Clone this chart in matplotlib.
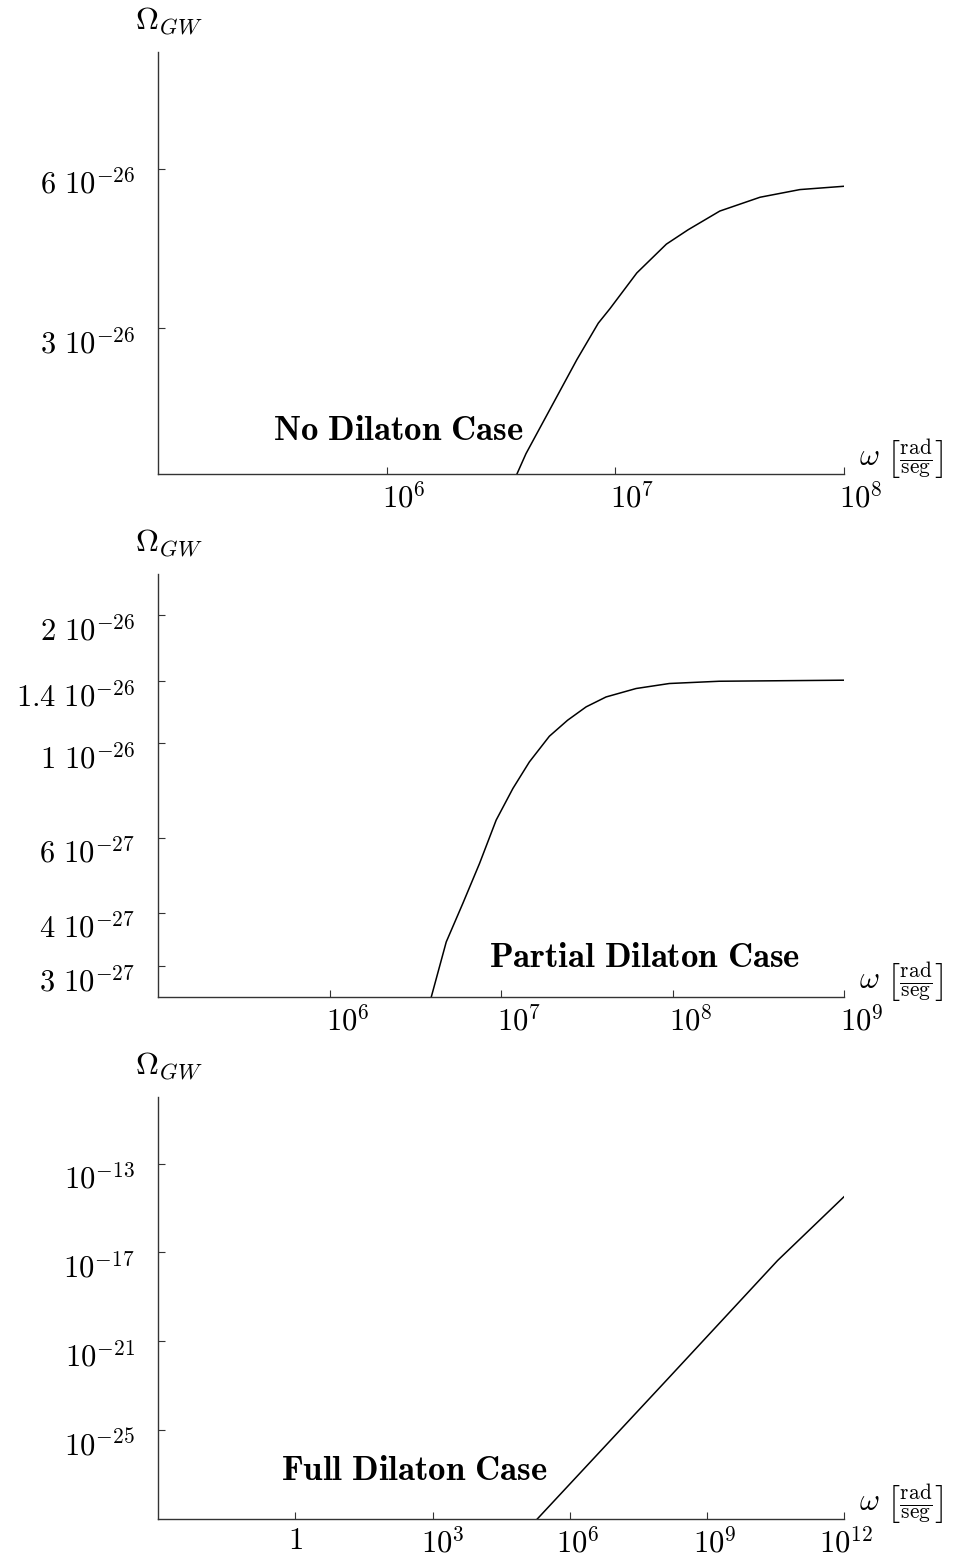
import numpy as np
import matplotlib
matplotlib.use("Agg")
import matplotlib.pyplot as plt
import matplotlib.transforms as mtransforms

plt.rcParams['font.family'] = 'serif'
plt.rcParams['font.serif'] = ['cmr10']
plt.rcParams['mathtext.fontset'] = 'cm'
plt.rcParams['axes.unicode_minus'] = False

# No dilaton case
no_omega = [3.70e6, 4.06e6, 6.78e6, 8.41e6, 9.46e6, 1.24e7, 1.67e7, 2.08e7,
            2.86e7, 4.29e7, 6.41e7, 1.0e8]
no_gw = [1.59e-26, 1.74e-26, 2.62e-26, 3.07e-26, 3.27e-26, 3.82e-26, 4.33e-26,
         4.61e-26, 5.00e-26, 5.31e-26, 5.49e-26, 5.57e-26]

# Partial dilaton case
partial_omega = [3.91e6, 4.78e6, 5.97e6, 7.48e6, 9.35e6, 1.17e7, 1.46e7, 1.91e7,
                 2.44e7, 3.13e7, 4.09e7, 6.12e7, 9.57e7, 1.87e8, 1.0e9]
partial_gw = [2.54e-27, 3.42e-27, 4.21e-27, 5.23e-27, 6.61e-27, 7.84e-27,
              9.05e-27, 1.040e-26, 1.134e-26, 1.219e-26, 1.286e-26, 1.346e-26,
              1.383e-26, 1.400e-26, 1.408e-26]

# Full dilaton case
full_omega = [1.95e5, 1.37e8, 3.53e10, 1.0e12]
full_gw = [1.0e-29, 1.95e-23, 4.37e-18, 3.24e-15]

no_xticks = [1e6, 1e7, 1e8]
no_xlabels = [r'$10^6$', r'$10^7$', r'$10^8$']
no_yticks = [3e-26, 6e-26]
no_ylabels = [r'$3\ 10^{-26}$', r'$6\ 10^{-26}$']

partial_xticks = [1e6, 1e7, 1e8, 1e9]
partial_xlabels = [r'$10^6$', r'$10^7$', r'$10^8$', r'$10^9$']
partial_yticks = [3e-27, 4e-27, 6e-27, 1e-26, 1.4e-26, 2e-26]
partial_ylabels = [r'$3\ 10^{-27}$', r'$4\ 10^{-27}$', r'$6\ 10^{-27}$',
                   r'$1\ 10^{-26}$', r'$1.4\ 10^{-26}$', r'$2\ 10^{-26}$']

full_xticks = [1, 1e3, 1e6, 1e9, 1e12]
full_xlabels = [r'$1$', r'$10^3$', r'$10^6$', r'$10^9$', r'$10^{12}$']
full_yticks = [1e-25, 1e-21, 1e-17, 1e-13]
full_ylabels = [r'$10^{-25}$', r'$10^{-21}$', r'$10^{-17}$', r'$10^{-13}$']

panels = [
    dict(x=no_omega, y=no_gw, xlim=(1e5, 1e8), ylim=(1.59e-26, 1.0e-25),
         xt=no_xticks, xl=no_xlabels, yt=no_yticks, yl=no_ylabels,
         name=r'$\mathbf{No\ Dilaton\ Case}$', pos=(0.3496, 0.1025),
         rect=[0.1656, 0.6967, 0.7173, 0.2702], xshift=[17, 17, 17]),
    dict(x=partial_omega, y=partial_gw, xlim=(1e5, 1e9), ylim=(2.535e-27, 2.5e-26),
         xt=partial_xticks, xl=partial_xlabels, yt=partial_yticks, yl=partial_ylabels,
         name=r'$\mathbf{Partial\ Dilaton\ Case}$', pos=(0.709, 0.093),
         rect=[0.1656, 0.3623, 0.7173, 0.2707], xshift=[18, 18, 18, 18]),
    dict(x=full_omega, y=full_gw, xlim=(1e-3, 1e12), ylim=(1e-29, 1e-10),
         xt=full_xticks, xl=full_xlabels, yt=full_yticks, yl=full_ylabels,
         name=r'$\mathbf{Full\ Dilaton\ Case}$', pos=(0.3736, 0.1137),
         rect=[0.1656, 0.0288, 0.7173, 0.2698], xshift=[0, 10, 8, 8, 2]),
]

fig = plt.figure(figsize=(9.56, 15.64), dpi=100)

for p in panels:
    ax = fig.add_axes(p['rect'])
    ax.plot(p['x'], p['y'], color='black', lw=1.1)
    ax.set_xscale('log')
    ax.set_yscale('log')
    ax.set_xlim(*p['xlim'])
    ax.set_ylim(*p['ylim'])
    ax.minorticks_off()
    ax.set_xticks(p['xt'])
    ax.set_xticklabels(p['xl'])
    ax.set_yticks(p['yt'])
    ax.set_yticklabels(p['yl'])
    for s in ['top', 'right']:
        ax.spines[s].set_visible(False)
    for s in ['left', 'bottom']:
        ax.spines[s].set_linewidth(1.0)
        ax.spines[s].set_color('#333333')
    ax.tick_params(axis='both', direction='in', length=5, width=0.8,
                   labelsize=22, color='#333333')
    ax.tick_params(axis='y', pad=17)
    ax.tick_params(axis='x', pad=6)

    # Mathematica-like label placement
    for lab, dx in zip(ax.get_xticklabels(), p['xshift']):
        off = mtransforms.ScaledTranslation(dx / 100, 0, fig.dpi_scale_trans)
        lab.set_transform(lab.get_transform() + off)
    for lab in ax.get_yticklabels():
        off = mtransforms.ScaledTranslation(0, -12 / 100, fig.dpi_scale_trans)
        lab.set_transform(lab.get_transform() + off)

    ax.text(p['pos'][0], p['pos'][1], p['name'], transform=ax.transAxes,
            ha='center', va='center', fontsize=25)
    ax.text(-0.034, 1.072, r'$\Omega_{GW}$', transform=ax.transAxes,
            ha='left', va='center', fontsize=23)
    ax.text(1.022, 0.035, r'$\omega\ \left[\frac{\mathrm{rad}}{\mathrm{seg}}\right]$',
            transform=ax.transAxes, ha='left', va='center', fontsize=22)

fig.savefig('out.png', dpi=100)
